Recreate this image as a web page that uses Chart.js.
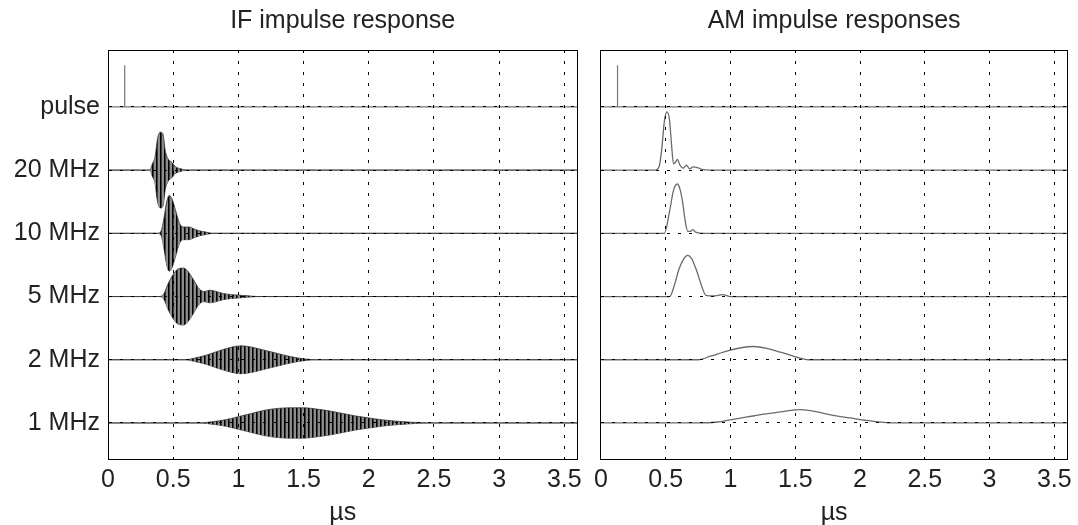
<!DOCTYPE html>
<html>
<head>
<meta charset="utf-8">
<title>IF / AM impulse responses</title>
<style>
  html, body { margin: 0; padding: 0; background: #fff; overflow: hidden; }
  #left { position: absolute; left: 0; top: 0; }
  #right { position: absolute; left: 588px; top: 0; }
</style>
</head>
<body>
<canvas id="left" width="588" height="528"></canvas>
<canvas id="right" width="490" height="528"></canvas>
<script src="https://cdn.jsdelivr.net/npm/chart.js@4.4.6/dist/chart.umd.min.js"></script>
<script>
// rows, bottom to top the y value is 1..6
const channels = ["pulse", "20 MHz", "10 MHz", "5 MHz", "2 MHz", "1 MHz"]
const rowY = [6, 5, 4, 3, 2, 1]

// time in µs, amplitude in row units
const pulseT = [0, 0.128, 0.128, 0.128, 3.6]
const pulseA = [0, 0, 0.66, 0, 0]

// IF bursts: envelope of the oscillation
const if20T = [0, 0.32, 0.34, 0.36, 0.38, 0.40, 0.42, 0.44, 0.46, 0.49, 0.52, 0.56, 0.60, 3.6]
const if20A = [0, 0, 0.10, 0.20, 0.50, 0.60, 0.58, 0.30, 0.18, 0.12, 0.05, 0.02, 0, 0]
const if10T = [0, 0.38, 0.41, 0.43, 0.45, 0.47, 0.49, 0.52, 0.55, 0.58, 0.62, 0.66, 0.70, 0.75, 0.80, 3.6]
const if10A = [0, 0, 0.05, 0.25, 0.50, 0.60, 0.55, 0.35, 0.15, 0.10, 0.10, 0.07, 0.04, 0.02, 0, 0]
const if5T = [0, 0.40, 0.43, 0.46, 0.50, 0.54, 0.58, 0.62, 0.66, 0.70, 0.74, 0.78, 0.83, 0.88, 0.95, 1.05, 1.15, 3.6]
const if5A = [0, 0, 0.05, 0.20, 0.35, 0.44, 0.45, 0.38, 0.25, 0.12, 0.08, 0.10, 0.08, 0.05, 0.03, 0.015, 0, 0]
const if2T = [0, 0.60, 0.65, 0.75, 0.85, 0.95, 1.02, 1.10, 1.20, 1.30, 1.40, 1.50, 1.60, 3.6]
const if2A = [0, 0, 0.02, 0.07, 0.14, 0.20, 0.22, 0.20, 0.15, 0.10, 0.05, 0.015, 0, 0]
const if1T = [0, 0.70, 0.80, 0.90, 1.00, 1.10, 1.20, 1.30, 1.40, 1.50, 1.60, 1.70, 1.80, 1.90, 2.00, 2.10, 2.20, 2.30, 2.45, 3.6]
const if1A = [0, 0, 0.02, 0.05, 0.10, 0.15, 0.20, 0.23, 0.24, 0.24, 0.22, 0.19, 0.15, 0.11, 0.08, 0.05, 0.03, 0.015, 0, 0]

// AM envelopes
const am20T = [0, 0.42, 0.45, 0.47, 0.49, 0.51, 0.53, 0.545, 0.56, 0.575, 0.59, 0.61, 0.635, 0.66, 0.685, 0.71, 0.745, 0.78, 0.85, 3.6]
const am20A = [0, 0, 0.06, 0.35, 0.78, 0.92, 0.78, 0.40, 0.10, 0.12, 0.17, 0.08, 0.03, 0.08, 0.02, 0.05, 0.04, 0.01, 0, 0]
const am10T = [0, 0.49, 0.53, 0.56, 0.59, 0.61, 0.63, 0.65, 0.67, 0.69, 0.71, 0.73, 0.80, 3.6]
const am10A = [0, 0, 0.35, 0.68, 0.78, 0.70, 0.50, 0.20, 0.03, 0.03, 0.06, 0.02, 0, 0]
const am5T = [0, 0.53, 0.57, 0.60, 0.64, 0.67, 0.70, 0.74, 0.78, 0.81, 0.87, 0.94, 1.00, 3.6]
const am5A = [0, 0, 0.20, 0.42, 0.60, 0.65, 0.60, 0.40, 0.15, 0.02, 0.01, 0.03, 0, 0]
const am2T = [0, 0.75, 0.85, 0.98, 1.08, 1.18, 1.28, 1.385, 1.45, 1.51, 1.60, 3.6]
const am2A = [0, 0, 0.06, 0.14, 0.19, 0.21, 0.18, 0.12, 0.08, 0.04, 0, 0]
const am1T = [0, 0.75, 0.90, 1.00, 1.13, 1.26, 1.40, 1.54, 1.66, 1.79, 1.92, 2.05, 2.25, 3.6]
const am1A = [0, 0, 0.015, 0.05, 0.095, 0.14, 0.18, 0.21, 0.18, 0.12, 0.08, 0.04, 0, 0]

const FONT = { family: "'Liberation Sans', Arial, Helvetica, sans-serif", size: 25 }
const TEXT = "#222"

function pts(t, a, base, sign) {
    return t.map((x, i) => ({ x: x, y: base + sign * a[i] }))
}

// vertical stripe texture to look like the dense carrier
const pc = document.createElement("canvas")
pc.width = 4
pc.height = 1
const pctx = pc.getContext("2d")
pctx.fillStyle = "#8c8c8c"
pctx.fillRect(0, 0, 4, 1)
pctx.fillStyle = "#000"
pctx.fillRect(0, 0, 1, 1)
pctx.fillStyle = "#3c3c3c"
pctx.fillRect(1, 0, 1, 1)
const stripes = pctx.createPattern(pc, "repeat")

function line(data, color, width) {
    return { data: data, borderColor: color, borderWidth: width, pointRadius: 0, fill: false,
        cubicInterpolationMode: "monotone" }
}

function pulseSet() {
    const s = line(pts(pulseT, pulseA, rowY[0], 1), "#777", 1.2)
    s.cubicInterpolationMode = "default"
    s.tension = 0
    return s
}

const ifSets = [pulseSet()]
;[[if20T, if20A], [if10T, if10A], [if5T, if5A], [if2T, if2A], [if1T, if1A]].forEach((c, i) => {
    const base = rowY[i + 1]
    ifSets.push({ data: pts(c[0], c[1], base, 1), borderColor: "#333", borderWidth: 0.8, pointRadius: 0,
        fill: "+1", backgroundColor: stripes, cubicInterpolationMode: "monotone" })
    ifSets.push({ data: pts(c[0], c[1], base, -1), borderColor: "#333", borderWidth: 0.8, pointRadius: 0,
        fill: false, cubicInterpolationMode: "monotone" })
})

const amSets = [pulseSet()]
;[[am20T, am20A], [am10T, am10A], [am5T, am5A], [am2T, am2A], [am1T, am1A]].forEach((c, i) => {
    amSets.push(line(pts(c[0], c[1], rowY[i + 1], 1), "#6a6a6a", 1.3))
})

function makeChart(id, title, datasets, leftW, showY) {
    const dotted = { display: true, color: "#000", width: 1, dash: [3, 8], z: 1 }
    return new Chart(document.getElementById(id), {
        type: "line",
        data: { datasets: datasets },
        options: {
            responsive: false,
            animation: false,
            devicePixelRatio: 1,
            layout: { padding: { left: 0, right: 9, top: 0, bottom: 0 } },
            plugins: {
                legend: { display: false },
                tooltip: { enabled: false },
                title: { display: true, text: title, color: TEXT, fullSize: false,
                    font: Object.assign({}, FONT, { weight: "normal" }), padding: { top: 6, bottom: 0 } },
            },
            scales: {
                x: {
                    type: "linear", position: "bottom", min: 0, max: 3.6,
                    ticks: { stepSize: 0.5, includeBounds: false, padding: 6, font: FONT, color: TEXT, maxRotation: 0, autoSkip: false,
                        callback: v => String(v) },
                    grid: { color: "#000", lineWidth: 1, drawTicks: false, z: 1 },
                    border: dotted,
                    title: { display: true, text: "µs", font: FONT, color: TEXT, padding: { top: 0, bottom: 0 } },
                    afterFit: s => { s.height = 69 },
                },
                x2: {
                    type: "linear", position: "top", min: 0, max: 3.6,
                    ticks: { display: false }, grid: { display: false },
                    border: { display: true, color: "#000", width: 1, z: 1 },
                    afterFit: s => { s.height = 14 },
                },
                y: {
                    type: "linear", position: "left", min: 0.43, max: 6.9,
                    afterBuildTicks: s => { s.ticks = rowY.map(v => ({ value: v })) },
                    ticks: { display: showY, padding: 8, font: FONT, color: TEXT, autoSkip: false,
                        callback: v => channels[rowY.indexOf(v)] },
                    grid: { color: "#000", lineWidth: 1, drawTicks: false, z: 1 },
                    border: dotted,
                    afterFit: s => { s.width = leftW },
                },
                y2: {
                    type: "linear", position: "right", min: 0.43, max: 6.9,
                    ticks: { display: false }, grid: { display: false },
                    border: { display: true, color: "#000", width: 1, z: 1 },
                    afterFit: s => { s.width = 0 },
                },
            },
        },
    })
}

makeChart("left", "IF impulse response", ifSets, 108, true)
makeChart("right", "AM impulse responses", amSets, 11, false)
</script>
</body>
</html>
